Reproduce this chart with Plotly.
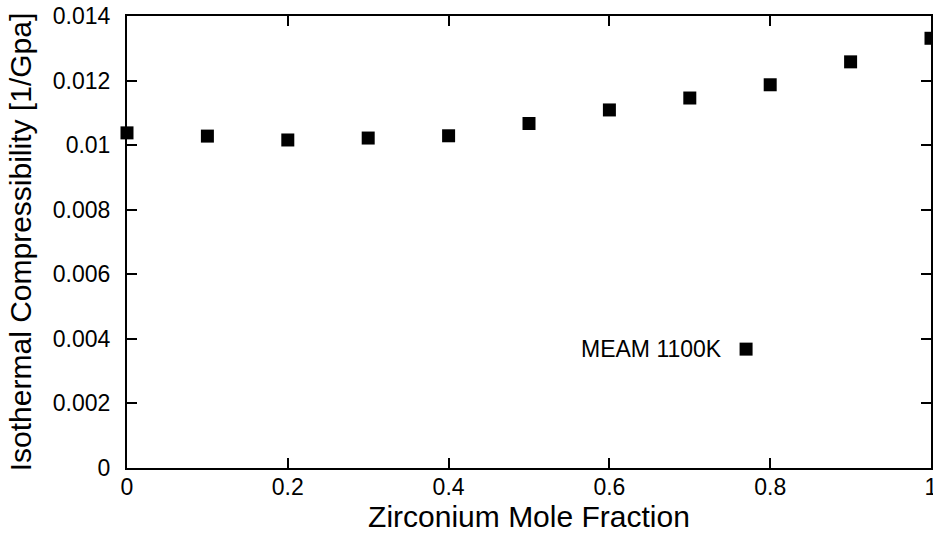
import plotly.graph_objects as go

zr_fraction = [0.0, 0.1, 0.2, 0.3, 0.4, 0.5, 0.6, 0.7, 0.8, 0.9, 1.0]
compressibility = [0.01038, 0.01028, 0.01016, 0.01022, 0.01029, 0.01067,
                   0.01109, 0.01146, 0.01187, 0.01258, 0.01331]
series_name = "MEAM 1100K"

FONT = "Liberation Sans, Arial, Helvetica, sans-serif"

fig = go.Figure()
fig.add_trace(go.Scatter(
    x=zr_fraction, y=compressibility, mode="markers", name=series_name,
    marker=dict(symbol="square", size=13, color="black", line=dict(width=0)),
    cliponaxis=False, showlegend=False,
))

# legend: text on the left, key on the right (gnuplot style)
fig.add_annotation(
    xref="paper", yref="paper", x=0.742, y=0.263, xanchor="right", yanchor="middle",
    text=series_name, showarrow=False, font=dict(family=FONT, size=23, color="black"),
)
fig.add_shape(
    type="rect", xref="paper", yref="paper",
    x0=0.770 - 6.5 / 804, x1=0.770 + 6.5 / 804,
    y0=0.263 - 6.5 / 452, y1=0.263 + 6.5 / 452,
    fillcolor="black", line=dict(width=0),
)

axis_common = dict(
    showline=True, linecolor="black", linewidth=2, mirror="ticks",
    ticks="inside", ticklen=10, tickwidth=2, tickcolor="black",
    showgrid=False, zeroline=False,
    tickfont=dict(family=FONT, size=23, color="black"),
    automargin=False, ticklabeloverflow="allow",
)

fig.update_xaxes(
    range=[0, 1], dtick=0.2, tick0=0,
    title=dict(text="Zirconium Mole Fraction", font=dict(family=FONT, size=30, color="black"), standoff=0),
    ticklabelstandoff=-3,
    **axis_common,
)
fig.update_yaxes(
    range=[0, 0.014], dtick=0.002, tick0=0,
    title=dict(text="Isothermal Compressibility [1/Gpa]", font=dict(family=FONT, size=30, color="black"), standoff=12),
    ticklabelstandoff=10,
    **axis_common,
)

fig.update_layout(
    width=933, height=533,
    margin=dict(l=127, r=2, t=16, b=65),
    paper_bgcolor="white", plot_bgcolor="white",
    font=dict(family=FONT, color="black"),
)

fig.write_html("out.html")
